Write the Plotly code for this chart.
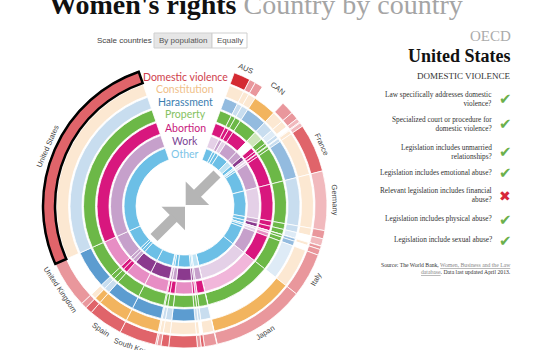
import math
import plotly.graph_objects as go

W, H = 560, 350
CX, CY = 185, 206
R_MAX = 144

countries = ["Australia", "Austria", "Belgium", "Canada", "Chile", "Czech Republic", "Denmark",
             "Estonia", "Finland", "France", "Germany", "Greece", "Hungary", "Iceland", "Ireland",
             "Israel", "Italy", "Japan", "Luxembourg", "Netherlands", "New Zealand", "Norway",
             "Poland", "Portugal", "Slovak Republic", "Slovenia", "South Korea", "Spain", "Sweden",
             "Switzerland", "United Kingdom", "United States"]
population = [22.7, 8.4, 11.1, 34.9, 17.4, 10.5, 5.6, 1.3, 5.4, 65.7, 80.4, 11.1, 9.9, 0.32, 4.6,
              7.9, 59.5, 127.6, 0.53, 16.8, 4.4, 5.0, 38.5, 10.5, 5.4, 2.06, 50.0, 46.8, 9.5, 8.0,
              63.7, 314.1]
country_labels = ["AUS", "", "", "CAN", "", "", "", "", "", "France", "Germany", "", "", "", "", "",
                  "Italy", "Japan", "", "", "", "", "", "", "", "", "South Korea", "Spain", "", "",
                  "United Kingdom", "United States"]

# score levels per ring (0 = no data / none)
domestic_violence = [4, 2, 2, 0, 2, 2, 1, 1, 1, 3, 1, 2, 1, 2, 2, 2, 2, 2, 2, 2, 3, 2, 3, 3, 2, 2, 3, 3, 3, 2, 2, 3]
constitution      = [1, 1, 1, 2, 1, 1, 0, 1, 1, 1, 1, 1, 0, 1, 1, 0, 1, 2, 1, 1, 0, 1, 1, 1, 1, 1, 2, 2, 2, 1, 0, 1]
harassment        = [3, 2, 2, 3, 2, 1, 2, 1, 2, 3, 2, 2, 1, 2, 3, 3, 1, 0, 2, 2, 2, 2, 4, 2, 2, 2, 4, 4, 2, 2, 4, 2]
property_rights   = [2, 2, 2, 2, 1, 2, 2, 2, 2, 2, 2, 2, 2, 2, 2, 2, 2, 2, 2, 2, 2, 2, 2, 2, 2, 2, 2, 2, 2, 2, 2, 2]
abortion          = [3, 3, 3, 3, 0, 3, 3, 3, 3, 3, 3, 3, 3, 1, 1, 2, 3, 1, 3, 3, 2, 3, 2, 3, 3, 3, 2, 2, 3, 3, 2, 3]
work              = [1, 2, 1, 2, 2, 3, 1, 2, 1, 2, 1, 2, 3, 1, 1, 1, 2, 1, 2, 2, 2, 3, 3, 2, 2, 2, 3, 3, 2, 2, 2, 2]
other             = [2, 2, 2, 2, 1, 2, 1, 2, 2, 2, 2, 2, 2, 1, 2, 2, 2, 2, 2, 1, 1, 2, 2, 2, 2, 2, 2, 2, 2, 2, 2, 2]

ring_names = ["Domestic violence", "Constitution", "Harassment", "Property", "Abortion", "Work", "Other"]
ring_values = [domestic_violence, constitution, harassment, property_rights, abortion, work, other]
ring_palettes = [
    ["#ffffff", "#f1b9bd", "#e9979c", "#e0646a", "#d42a32"],
    ["#ffffff", "#fce8d2", "#f2b45e"],
    ["#ffffff", "#deebf6", "#c8ddef", "#93bbdf", "#5c9cd0"],
    ["#ffffff", "#cde6b9", "#6cb847"],
    ["#ffffff", "#f1b6da", "#e78dc4", "#d8177e"],
    ["#ffffff", "#e4d0e7", "#c6a0cb", "#8b3a8e"],
    ["#ffffff", "#bfe3f4", "#6cbfe6"],
]
ring_label_colors = ["#cf3e4c", "#f0c088", "#3a7db0", "#86c262", "#c8197d", "#7b4594", "#7cc4e7"]
ring_label_y = [76.7, 89.3, 101.7, 114.3, 128.3, 141.0, 154.3]
ring_inner = [130, 116.5, 103, 89.5, 76, 62.5, 49]
RING_W = 12

questions = ["Law specifically addresses domestic<br>violence?",
             "Specialized court or procedure for<br>domestic violence?",
             "Legislation includes unmarried<br>relationships?",
             "Legislation includes emotional abuse?",
             "Relevant legislation includes financial<br>abuse?",
             "Legislation includes physical abuse?",
             "Legislation include sexual abuse?"]
answers = [True, True, True, True, False, True, True]

# ---- angular layout (clockwise from top) ----
start_angle, end_angle = 20.3, 341.0
scale = (end_angle - start_angle) / sum(population)
widths = [p * scale for p in population]
centers = []
acc = start_angle
for w in widths:
    centers.append(acc + w / 2)
    acc += w

def px(x):
    return x / W

def py(y):
    return 1 - y / H

fig = go.Figure()
for vals, pal, inner in zip(ring_values, ring_palettes, ring_inner):
    fig.add_trace(go.Barpolar(
        r=[RING_W] * len(vals), base=[inner] * len(vals), theta=centers, width=widths,
        marker=dict(color=[pal[v] for v in vals], line=dict(color="white", width=0.8)),
        hoverinfo="skip", showlegend=False))

# selected country outline
us = countries.index("United States")
fig.add_trace(go.Barpolar(
    r=[RING_W], base=[ring_inner[0]], theta=[centers[us]], width=[widths[us]],
    marker=dict(color=ring_palettes[0][domestic_violence[us]], line=dict(color="black", width=2.5)),
    hoverinfo="skip", showlegend=False))

annotations = []

def ann(text, x, y, size, color, family="Liberation Serif", xanchor="center", yanchor="middle",
        angle=0, align="center"):
    annotations.append(dict(text=text, x=px(x), y=py(y), xref="paper", yref="paper",
                            xanchor=xanchor, yanchor=yanchor, showarrow=False, textangle=angle,
                            align=align, font=dict(size=size, color=color, family=family)))

# title
ann("<b>Women's rights</b> <span style='color:#a5a5a5'>Country by country</span>",
    256, 4, 28, "#111111")

# scale buttons
ann("Scale countries", 124, 40.5, 8, "#444444", family="Liberation Sans")
ann("By population", 183, 40.5, 8, "#555555", family="Liberation Sans")
ann("Equally", 229.5, 40.5, 8, "#555555", family="Liberation Sans")

# ring labels
for name, col, yy in zip(ring_names, ring_label_colors, ring_label_y):
    ann(name, CX, yy, 10.5, col, family="Lato")

# country labels
for lab, a in zip(country_labels, centers):
    if not lab:
        continue
    r = 150
    x = CX + r * math.sin(math.radians(a))
    y = CY - r * math.cos(math.radians(a))
    if a <= 90:
        ta = a
    elif a <= 270:
        ta = a - 180
    else:
        ta = a - 360
    ann(lab, x, y, 7.5, "#444444", family="Liberation Sans", angle=ta)

# right panel
ann("OECD", 513, 36, 15, "#ababab", xanchor="right")
ann("<b>United States</b>", 513, 55.5, 18, "#111111", xanchor="right")
ann("DOMESTIC VIOLENCE", 513, 75.5, 9, "#333333", xanchor="right")
q_y = [99, 124.5, 152, 172, 195, 218, 239]
icon_y = [99, 124, 152, 173, 196, 220, 241]
for q, yy, iy, ok in zip(questions, q_y, icon_y, answers):
    ann(q, 494, yy, 7.3, "#333333", xanchor="right", align="right")
    if ok:
        ann("✔", 505, iy, 15, "#6ab04c", family="DejaVu Sans")
    else:
        ann("✖", 505, iy, 14, "#d7283a", family="DejaVu Sans")
ann("Source: The World Bank, <span style='color:#888888'><u>Women, Business and the Law</u></span><br>"
    "<span style='color:#888888'><u>database</u></span>. Data last updated April 2013.",
    513, 268.5, 5.7, "#333333", xanchor="right", align="right")

# shapes: buttons + center arrows
shapes = [
    dict(type="rect", xref="paper", yref="paper", x0=px(154), x1=px(212), y0=py(48), y1=py(33),
         fillcolor="#e6e6e6", line=dict(color="#cfcfcf", width=1), layer="below"),
    dict(type="rect", xref="paper", yref="paper", x0=px(212), x1=px(247), y0=py(48), y1=py(33),
         fillcolor="#ffffff", line=dict(color="#cfcfcf", width=1), layer="below"),
]

def poly(points):
    return "M " + " L ".join(f"{px(x):.5f},{py(y):.5f}" for x, y in points) + " Z"

def shaft(p0, p1, hw):
    dx, dy = p1[0] - p0[0], p1[1] - p0[1]
    L = math.hypot(dx, dy)
    nx, ny = -dy / L * hw, dx / L * hw
    return [(p0[0] + nx, p0[1] + ny), (p1[0] + nx, p1[1] + ny),
            (p1[0] - nx, p1[1] - ny), (p0[0] - nx, p0[1] - ny)]

grey = "#b5b5b5"
arrow_polys = [
    [(185.7, 181.5), (185.7, 205.0), (209.2, 205.0)],
    shaft((196.5, 194.2), (217.0, 174.0), 5),
    [(161.5, 206.7), (185.0, 206.7), (185.0, 230.2)],
    shaft((174.2, 217.5), (154.0, 237.5), 5),
]
for pts in arrow_polys:
    shapes.append(dict(type="path", xref="paper", yref="paper", path=poly(pts),
                       fillcolor=grey, line=dict(width=0), layer="above"))

fig.update_layout(
    width=W, height=H, margin=dict(l=0, r=0, t=0, b=0),
    paper_bgcolor="white", plot_bgcolor="white", showlegend=False,
    polar=dict(
        domain=dict(x=[(CX - R_MAX) / W, (CX + R_MAX) / W],
                    y=[(H - CY - R_MAX) / H, (H - CY + R_MAX) / H]),
        bgcolor="rgba(0,0,0,0)", barmode="overlay", hole=0,
        radialaxis=dict(range=[0, R_MAX], visible=False, showgrid=False),
        angularaxis=dict(rotation=90, direction="clockwise", visible=False, showgrid=False),
    ),
    annotations=annotations, shapes=shapes,
)

fig.write_html("out.html", config={"displayModeBar": False})
